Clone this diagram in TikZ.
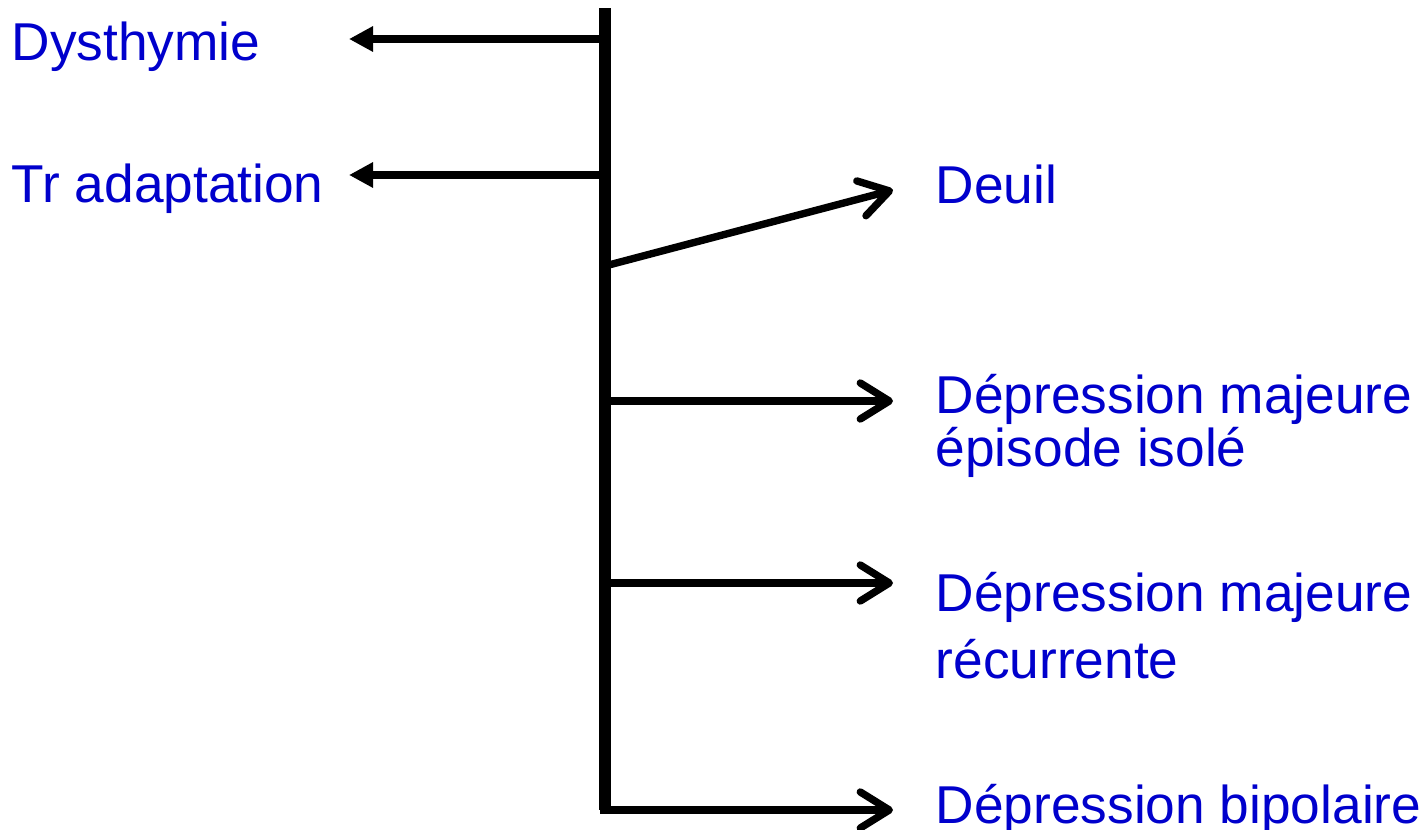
\documentclass[tikz,border=0pt]{standalone}
\usepackage{fontspec}
\setmainfont{Liberation Sans}
\usetikzlibrary{arrows.meta}
\definecolor{bleu}{RGB}{0,0,204}

\begin{document}
\begin{tikzpicture}[x=0.01cm,y=-0.01cm]
\tikzset{lbl/.style={text=bleu, font=\fontsize{15.15}{18}\selectfont, inner sep=0pt, anchor=base west},
  gauche/.style={line width=0.08cm, -{Triangle[length=0.24cm,width=0.24cm]}},
  droite/.style={line width=2.1pt, -{Straight Barb[round,length=0.29cm,width=0.36cm]}}}
\useasboundingbox (0,0) rectangle (1426,830);
% axe vertical
\coordinate (haut) at (605,8) ;
\coordinate (bas) at (605,810) ;
\draw[line width=3.2pt] (haut) -- (bas) ;
% textes
\node[lbl] (dys) at (11,60) {Dysthymie} ;
\node[lbl] (adapt) at (11,202) {Tr adaptation} ;
\node[lbl] (deuil) at (935,203) {Deuil} ;
\node[lbl] (iso1) at (935,413) {Dépression majeure} ;
\node[lbl] (iso2) at (935,466) {épisode isolé} ;
\node[lbl] (rec1) at (935,611) {Dépression majeure} ;
\node[lbl] (rec2) at (935,678) {récurrente} ;
\node[lbl] (bip) at (935,823) {Dépression bipolaire} ;
% points des fleches
\coordinate (a1) at (605,39) ;
\coordinate (b1) at (349,39) ;
\coordinate (a2) at (605,175) ;
\coordinate (b2) at (349,175) ;
\coordinate (a3) at (605,266) ;
\coordinate (b3) at (893,190) ;
\coordinate (a4) at (605,401) ;
\coordinate (b4) at (893,401) ;
\coordinate (a5) at (605,583) ;
\coordinate (b5) at (893,583) ;
\coordinate (a6) at (600,810) ;
\coordinate (b6) at (893,810) ;
\draw[gauche] (a1) -- (b1) ;
\draw[gauche] (a2) -- (b2) ;
\draw[droite] (a3) -- (b3) ;
\draw[droite] (a4) -- (b4) ;
\draw[droite] (a5) -- (b5) ;
\draw[droite] (a6) -- (b6) ;
\end{tikzpicture}
\end{document}
